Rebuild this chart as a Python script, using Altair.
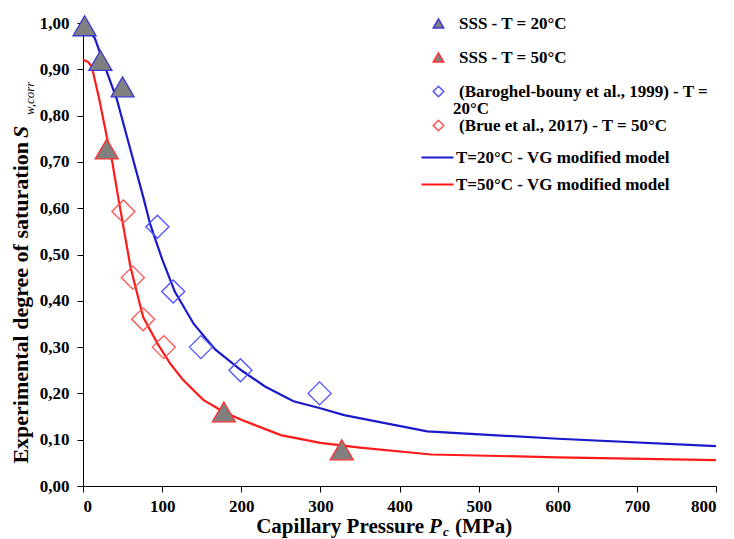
import altair as alt
import pandas as pd

# ---- data ----
sss20_x = [2, 22, 50]
sss20_y = [0.994, 0.919, 0.862]
sss50_x = [30, 178, 327]
sss50_y = [0.728, 0.16, 0.078]
bar_x = [94, 114, 149, 199, 299]
bar_y = [0.56, 0.42, 0.30, 0.25, 0.20]
brue_x = [51, 63, 76, 102]
brue_y = [0.593, 0.45, 0.36, 0.30]

blue_x = [0, 15, 30, 43, 57, 76, 85, 100, 116, 140, 167, 200, 230, 266, 300, 330, 435, 600, 800]
blue_y = [1.0, 0.967, 0.895, 0.834, 0.745, 0.625, 0.565, 0.49, 0.42, 0.35, 0.295, 0.25, 0.215, 0.183, 0.168, 0.153, 0.118, 0.102, 0.086]
red_x = [0, 7, 11, 14, 20, 30, 37, 45, 48, 60, 76, 94, 110, 126, 152, 178, 200, 250, 300, 350, 440, 600, 800]
red_y = [0.921, 0.915, 0.905, 0.884, 0.84, 0.755, 0.70, 0.618, 0.59, 0.473, 0.365, 0.308, 0.265, 0.23, 0.186, 0.16, 0.143, 0.11, 0.093, 0.083, 0.068, 0.062, 0.056]

s_names = ["SSS - T = 20°C", "SSS - T = 50°C",
           "(Baroghel-bouny et al., 1999) - T = 20°C", "(Brue et al., 2017) - T = 50°C"]
m_names = ["T=20°C - VG modified model", "T=50°C - VG modified model"]

pts = pd.concat([
    pd.DataFrame({"x": sss20_x, "y": sss20_y, "series": s_names[0]}),
    pd.DataFrame({"x": sss50_x, "y": sss50_y, "series": s_names[1]}),
    pd.DataFrame({"x": bar_x, "y": bar_y, "series": s_names[2]}),
    pd.DataFrame({"x": brue_x, "y": brue_y, "series": s_names[3]}),
])
lines = pd.concat([
    pd.DataFrame({"x": blue_x, "y": blue_y, "model": m_names[0], "o": range(len(blue_x))}),
    pd.DataFrame({"x": red_x, "y": red_y, "model": m_names[1], "o": range(len(red_x))}),
])

FONT = "Liberation Serif"

xs = alt.Scale(domain=[0, 800], nice=False)
ys = alt.Scale(domain=[0, 1], nice=False)
xaxis = alt.Axis(values=list(range(0, 801, 100)), title=None, grid=False,
                 labelFont=FONT, labelFontWeight="bold", labelFontSize=17, labelColor="black",
                 domainColor="black", tickColor="black", tickSize=6, labelPadding=6)
yaxis = alt.Axis(values=[i / 10 for i in range(11)], title=None, grid=False,
                 labelExpr="replace(format(datum.value, '.2f'), '.', ',')",
                 labelFont=FONT, labelFontWeight="bold", labelFontSize=17, labelColor="black",
                 domainColor="black", tickColor="black", tickSize=6, labelPadding=8)

line_layer = alt.Chart(lines).mark_line(strokeWidth=2.2).encode(
    x=alt.X("x:Q", scale=xs, axis=xaxis),
    y=alt.Y("y:Q", scale=ys, axis=yaxis),
    order="o:Q",
    stroke=alt.Stroke("model:N", scale=alt.Scale(domain=m_names, range=["#1a1acc", "#ff1a1a"]),
                      legend=alt.Legend(title=None, orient="none", legendX=337, legendY=117,
                                        symbolType="stroke", symbolSize=1024, symbolStrokeWidth=2.2,
                                        labelFont=FONT, labelFontWeight="bold", labelFontSize=17,
                                        labelColor="black", rowPadding=1, labelOffset=1,
                                        labelLimit=340)),
)

pt_layer = alt.Chart(pts).mark_point(size=530, strokeWidth=1.3, opacity=1).encode(
    x="x:Q",
    y="y:Q",
    shape=alt.Shape("series:N", scale=alt.Scale(domain=s_names,
                    range=["triangle-up", "triangle-up", "diamond", "diamond"]),
                    legend=alt.Legend(title=None, orient="none", legendX=347, legendY=-8,
                                      symbolSize=110, labelFont=FONT, labelFontWeight="bold",
                                      labelFontSize=17, labelColor="black", rowPadding=16,
                                      labelOffset=12, labelLimit=340,
                                      labelExpr="datum.label == '(Baroghel-bouny et al., 1999) - T = 20°C' ? '(Baroghel-bouny et al., 1999) - T =' : datum.label")),
    stroke=alt.Stroke("series:N", scale=alt.Scale(domain=s_names,
                      range=["#3a3ad0", "#ff3030", "#5050ff", "#ff5050"]), legend=None),
    fill=alt.Fill("series:N", scale=alt.Scale(domain=s_names,
                  range=["#808080", "#808080", "transparent", "transparent"]), legend=None),
)

# axis titles with sub-scripts, and the wrapped end of one legend label, as text marks
def txt(s, x, y, size=21, style="normal", angle=0, align="left", weight="bold"):
    return alt.Chart(pd.DataFrame({"t": [s]})).mark_text(
        font=FONT, fontSize=size, fontWeight=weight, fontStyle=style, angle=angle,
        align=align, baseline="alphabetic", color="black").encode(
        text="t:N", x=alt.value(x), y=alt.value(y))

titles = [
    txt("Capillary Pressure", 341, 510, align="right"),
    txt("P", 346, 510, style="italic"),
    txt("c", 360, 513, size=13, style="italic"),
    txt("(MPa)", 372, 510),
    txt("Experimental degree of saturation", -55, 119, size=22, angle=270, align="right"),
    txt("S", -55, 115, size=22, style="italic", angle=270),
    txt("w,corr", -49, 92, size=13, style="italic", angle=270, weight="normal"),
    txt("20°C", 370, 91, size=17),
]

chart = alt.layer(line_layer, pt_layer, *titles).resolve_scale(
    stroke="independent", shape="independent", fill="independent"
).properties(
    width=633, height=463,
    autosize=alt.AutoSizeParams(type="none"),
    padding={"left": 75, "top": 15, "right": 10, "bottom": 53},
).configure_view(stroke=None)

chart.save("out.html", embed_options={"renderer": "svg", "actions": False})
